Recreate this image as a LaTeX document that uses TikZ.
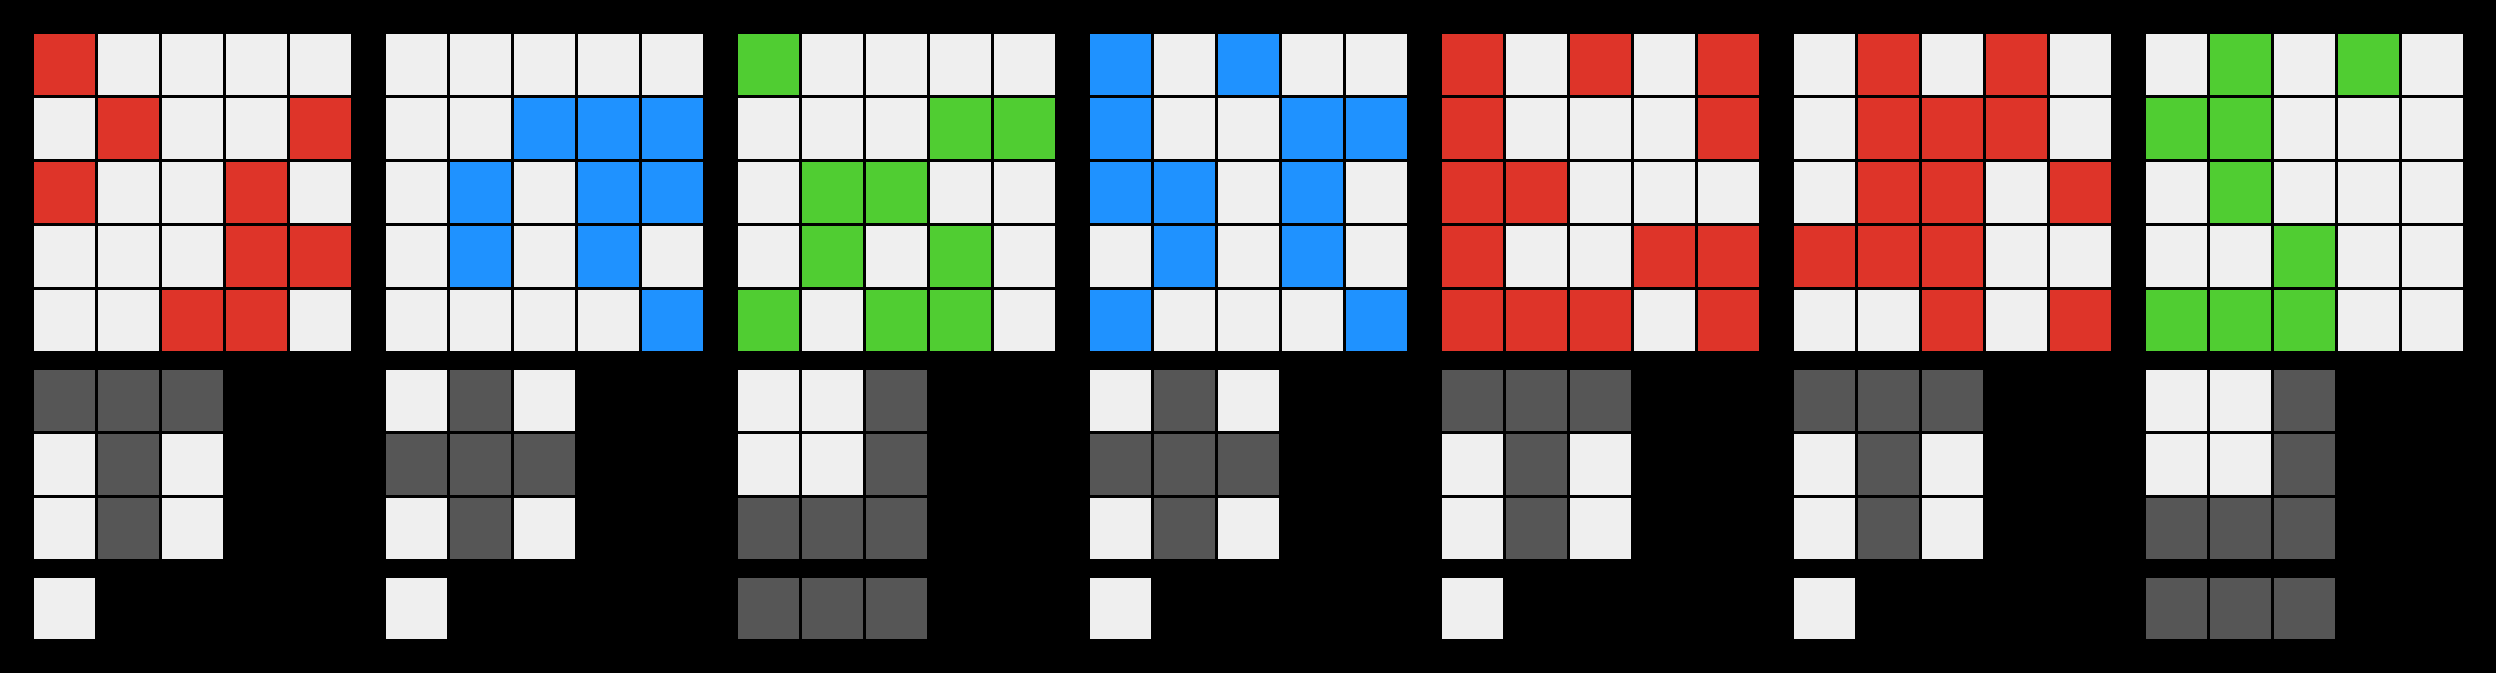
\documentclass[tikz,border=0pt]{standalone}
\definecolor{cR}{RGB}{222,52,41}
\definecolor{cB}{RGB}{31,146,255}
\definecolor{cG}{RGB}{80,205,50}
\definecolor{cW}{RGB}{239,239,239}
\definecolor{cD}{RGB}{86,86,86}
% one block of cells, rows given as lists of colour letters
\newcommand\cellrows[3]{%
  \foreach \row [count=\r from 0] in {#3}
    \foreach \c [count=\i from 0] in \row
      \fill[fill=c\c] ({#1+\i}, {#2+\r}) rectangle ++(0.953125, 0.953125);
}
% panel number, 5x5 grid, 3x3 grid, last row
\newcommand\panel[4]{%
  \cellrows{0.53125+#1*5.5}{0.53125}{#2}
  \cellrows{0.53125+#1*5.5}{5.78125}{#3}
  \cellrows{0.53125+#1*5.5}{9.03125}{#4}
}
\begin{document}
\begin{tikzpicture}[x=1cm, y=-1cm]
    \useasboundingbox (0, 0) rectangle (39, 10.5);
    \fill[black] (-0.2, -0.2) rectangle (39.2, 10.7);
    \panel{0}{{R,W,W,W,W},{W,R,W,W,R},{R,W,W,R,W},{W,W,W,R,R},{W,W,R,R,W}}
             {{D,D,D},{W,D,W},{W,D,W}}{{W}}
    \panel{1}{{W,W,W,W,W},{W,W,B,B,B},{W,B,W,B,B},{W,B,W,B,W},{W,W,W,W,B}}
             {{W,D,W},{D,D,D},{W,D,W}}{{W}}
    \panel{2}{{G,W,W,W,W},{W,W,W,G,G},{W,G,G,W,W},{W,G,W,G,W},{G,W,G,G,W}}
             {{W,W,D},{W,W,D},{D,D,D}}{{D,D,D}}
    \panel{3}{{B,W,B,W,W},{B,W,W,B,B},{B,B,W,B,W},{W,B,W,B,W},{B,W,W,W,B}}
             {{W,D,W},{D,D,D},{W,D,W}}{{W}}
    \panel{4}{{R,W,R,W,R},{R,W,W,W,R},{R,R,W,W,W},{R,W,W,R,R},{R,R,R,W,R}}
             {{D,D,D},{W,D,W},{W,D,W}}{{W}}
    \panel{5}{{W,R,W,R,W},{W,R,R,R,W},{W,R,R,W,R},{R,R,R,W,W},{W,W,R,W,R}}
             {{D,D,D},{W,D,W},{W,D,W}}{{W}}
    \panel{6}{{W,G,W,G,W},{G,G,W,W,W},{W,G,W,W,W},{W,W,G,W,W},{G,G,G,W,W}}
             {{W,W,D},{W,W,D},{D,D,D}}{{D,D,D}}
\end{tikzpicture}
\end{document}
